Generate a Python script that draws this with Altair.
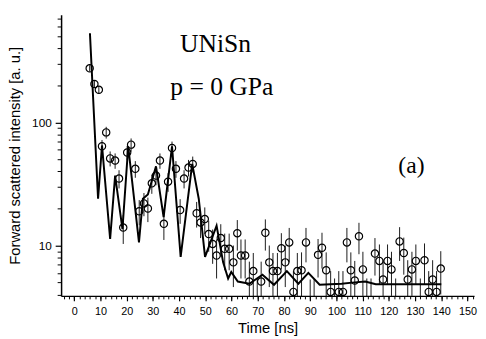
import altair as alt
import pandas as pd

# Measured data (time in ns, intensity in a.u., error)
time = [5.9, 7.7, 9.4, 10.6, 12.2, 13.7, 15.6, 17.1, 18.7, 20.2,
        21.7, 23.3, 24.8, 26.6, 28.1, 29.6, 31.2, 32.7, 34.2, 35.8,
        37.3, 38.8, 40.4, 41.9, 43.6, 45.2, 46.7, 48.2, 49.8, 51.3,
        52.8, 54.3, 55.9, 57.4, 59.1, 60.7, 62.2, 63.6, 65.2, 66.8,
        68.3, 69.8, 71.3, 72.9, 74.4, 75.8, 77.5, 79.0, 80.5, 82.0,
        83.6, 85.1, 86.7, 88.4, 90.0, 91.5, 93.0, 94.5, 96.1, 97.8,
        99.3, 100.9, 102.5, 104.0, 105.5, 107.0, 108.6, 110.1, 111.6, 113.2,
        114.7, 116.4, 117.8, 119.5, 121.0, 122.6, 124.1, 125.7, 127.2, 128.8,
        130.3, 132.0, 133.6, 135.2, 136.7, 138.2, 139.8]
intensity = [275, 205, 184, 64, 83, 51, 49, 35, 14, 57,
             66, 42, 19, 22, 20, 32, 37, 49, 15, 33,
             62, 42, 19.4, 35, 43, 46, 18.3, 15.4, 16.4, 12.4,
             10.3, 8.3, 11.5, 9.4, 9.4, 7.3, 12.6, 8.3, 8.3, 5.1,
             6.2, 3.5, 5.1, 12.7, 7.3, 6.2, 6.2, 9.5, 7.3, 10.6,
             4.2, 6.2, 6.3, 10.6, 3.4, 3.4, 8.4, 9.6, 6.3, 4.2,
             3.5, 4.2, 4.2, 10.6, 6.3, 5.2, 11.9, 6.4, 3.5, 3.5,
             8.6, 7.5, 5.3, 7.5, 6.4, 3.5, 10.8, 8.7, 5.3, 6.4,
             7.5, 3.5, 7.6, 4.2, 5.3, 4.2, 6.5]
error = [16.6, 14.3, 13.6, 8.0, 9.1, 7.1, 7.0, 5.9, 3.7, 7.5,
         8.1, 6.5, 4.4, 4.7, 4.5, 5.7, 6.1, 7.0, 3.9, 5.7,
         7.9, 6.5, 4.4, 5.9, 6.6, 6.8, 4.3, 3.9, 4.0, 3.5,
         3.2, 2.9, 3.4, 3.1, 3.1, 2.7, 3.5, 2.9, 2.9, 2.3,
         2.5, 1.9, 2.3, 3.6, 2.7, 2.5, 2.5, 3.1, 2.7, 3.3,
         2.0, 2.5, 2.5, 3.3, 1.9, 1.9, 2.9, 3.1, 2.5, 2.0,
         1.9, 2.0, 2.0, 3.3, 2.5, 2.3, 3.4, 2.5, 1.9, 1.9,
         2.9, 2.7, 2.3, 2.7, 2.5, 1.9, 3.3, 2.9, 2.3, 2.5,
         2.7, 1.9, 2.8, 2.0, 2.3, 2.0, 2.5]

# Fit curve
fit_time = [6.0, 9.1, 10.6, 13.7, 15.6, 18.4, 20.6, 24.7, 26.2, 28.1,
            31.2, 34.1, 37.3, 40.6, 45.0, 47.5, 49.9, 54.3, 56.8, 58.7,
            59.9, 62.4, 66.8, 71.8, 76.2, 81.1, 85.5, 89.3, 93.6, 102.0,
            106.0, 111.0, 115.0, 140.0]
fit_intensity = [530, 24, 65, 11.3, 37, 13.6, 64, 10.6, 24, 26,
                 44, 17, 64, 8.1, 46, 24, 8.1, 14.5, 7.3, 5.4,
                 6.1, 5.1, 4.9, 5.8, 4.8, 6.2, 4.9, 6.0, 4.8, 4.9,
                 5.0, 5.1, 4.85, 4.85]

x_major = list(range(0, 151, 10))
x_minor = list(range(-4, 153, 2))
y_major = [10, 100]
y_minor = [4, 5, 6, 7, 8, 9, 20, 30, 40, 50, 60, 70, 80, 90, 200, 300, 400, 500, 600, 700]

df = pd.DataFrame({"t": time, "v": intensity, "e": error})
df["lo"] = df["v"] - df["e"]
df["hi"] = df["v"] + df["e"]
fit = pd.DataFrame({"t": fit_time, "v": fit_intensity})

x_scale = alt.Scale(domain=[-5, 152.5], nice=False, zero=False)
y_scale = alt.Scale(type="log", domain=[3.9, 750], nice=False)

sans = "Liberation Sans"
serif = "Liberation Serif"

ax_x_major = alt.Axis(orient="bottom", values=x_major, tickSize=5, tickWidth=1.2, labelFontSize=11,
                      labelFont=sans, labelColor="black", title="Time [ns]", titleFont=sans,
                      titleFontSize=15, titleFontWeight="normal", titleColor="black",
                      labelPadding=5, titlePadding=4, grid=False, domainColor="black",
                      domainWidth=1.5, tickColor="black", labelFlush=False, labelOverlap=False)
ax_x_minor = alt.Axis(orient="bottom", values=x_minor, tickSize=3, tickWidth=1, labels=False,
                      domain=False, grid=False, tickColor="black", title=None)
ax_y_major = alt.Axis(orient="left", values=y_major, tickSize=6, tickWidth=1.2, labelFontSize=12,
                      labelFont=sans, labelColor="black",
                      title="Forward scattered intensity [a. u.]",
                      titleFont=sans, titleFontSize=15, titleFontWeight="normal", titleColor="black",
                      labelPadding=4, titlePadding=9, grid=False, domainColor="black",
                      domainWidth=1.5, tickColor="black", format="d", labelFlush=False)
ax_y_minor = alt.Axis(orient="left", values=y_minor, tickSize=4, tickWidth=1, labels=False,
                      domain=False, grid=False, tickColor="black", title=None)

fit_line = alt.Chart(fit).mark_line(color="black", strokeWidth=2, clip=True).encode(
    x=alt.X("t:Q", scale=x_scale, axis=ax_x_major),
    y=alt.Y("v:Q", scale=y_scale, axis=ax_y_major),
)

errbars = alt.Chart(df).mark_rule(color="black", strokeWidth=0.9, clip=True).encode(
    x=alt.X("t:Q", scale=x_scale, axis=ax_x_minor),
    y=alt.Y("lo:Q", scale=y_scale, axis=ax_y_minor),
    y2="hi:Q",
)

points = alt.Chart(df).mark_point(shape="circle", filled=False, color="black", size=55,
                                  strokeWidth=1.2, opacity=1, clip=True).encode(
    x=alt.X("t:Q", scale=x_scale, axis=None),
    y=alt.Y("v:Q", scale=y_scale, axis=None),
)

def label(txt, px, py, size):
    return alt.Chart(pd.DataFrame({"s": [txt]})).mark_text(
        font=serif, fontSize=size, align="left", baseline="alphabetic", color="black"
    ).encode(text="s:N", x=alt.value(px), y=alt.value(py))

texts = [label("UNiSn", 121, 38, 26), label("p = 0 GPa", 111, 82, 26), label("(a)", 343, 161, 24)]

chart = alt.layer(fit_line, errbars, points, *texts).resolve_axis(
    x="independent", y="independent"
).properties(
    width=420, height=286,
    padding={"left": 54, "top": 4, "right": 4, "bottom": 38},
    autosize=alt.AutoSizeParams(type="none"),
).configure_view(stroke=None)

chart.save("out.html", embed_options={"renderer": "svg", "actions": False})
